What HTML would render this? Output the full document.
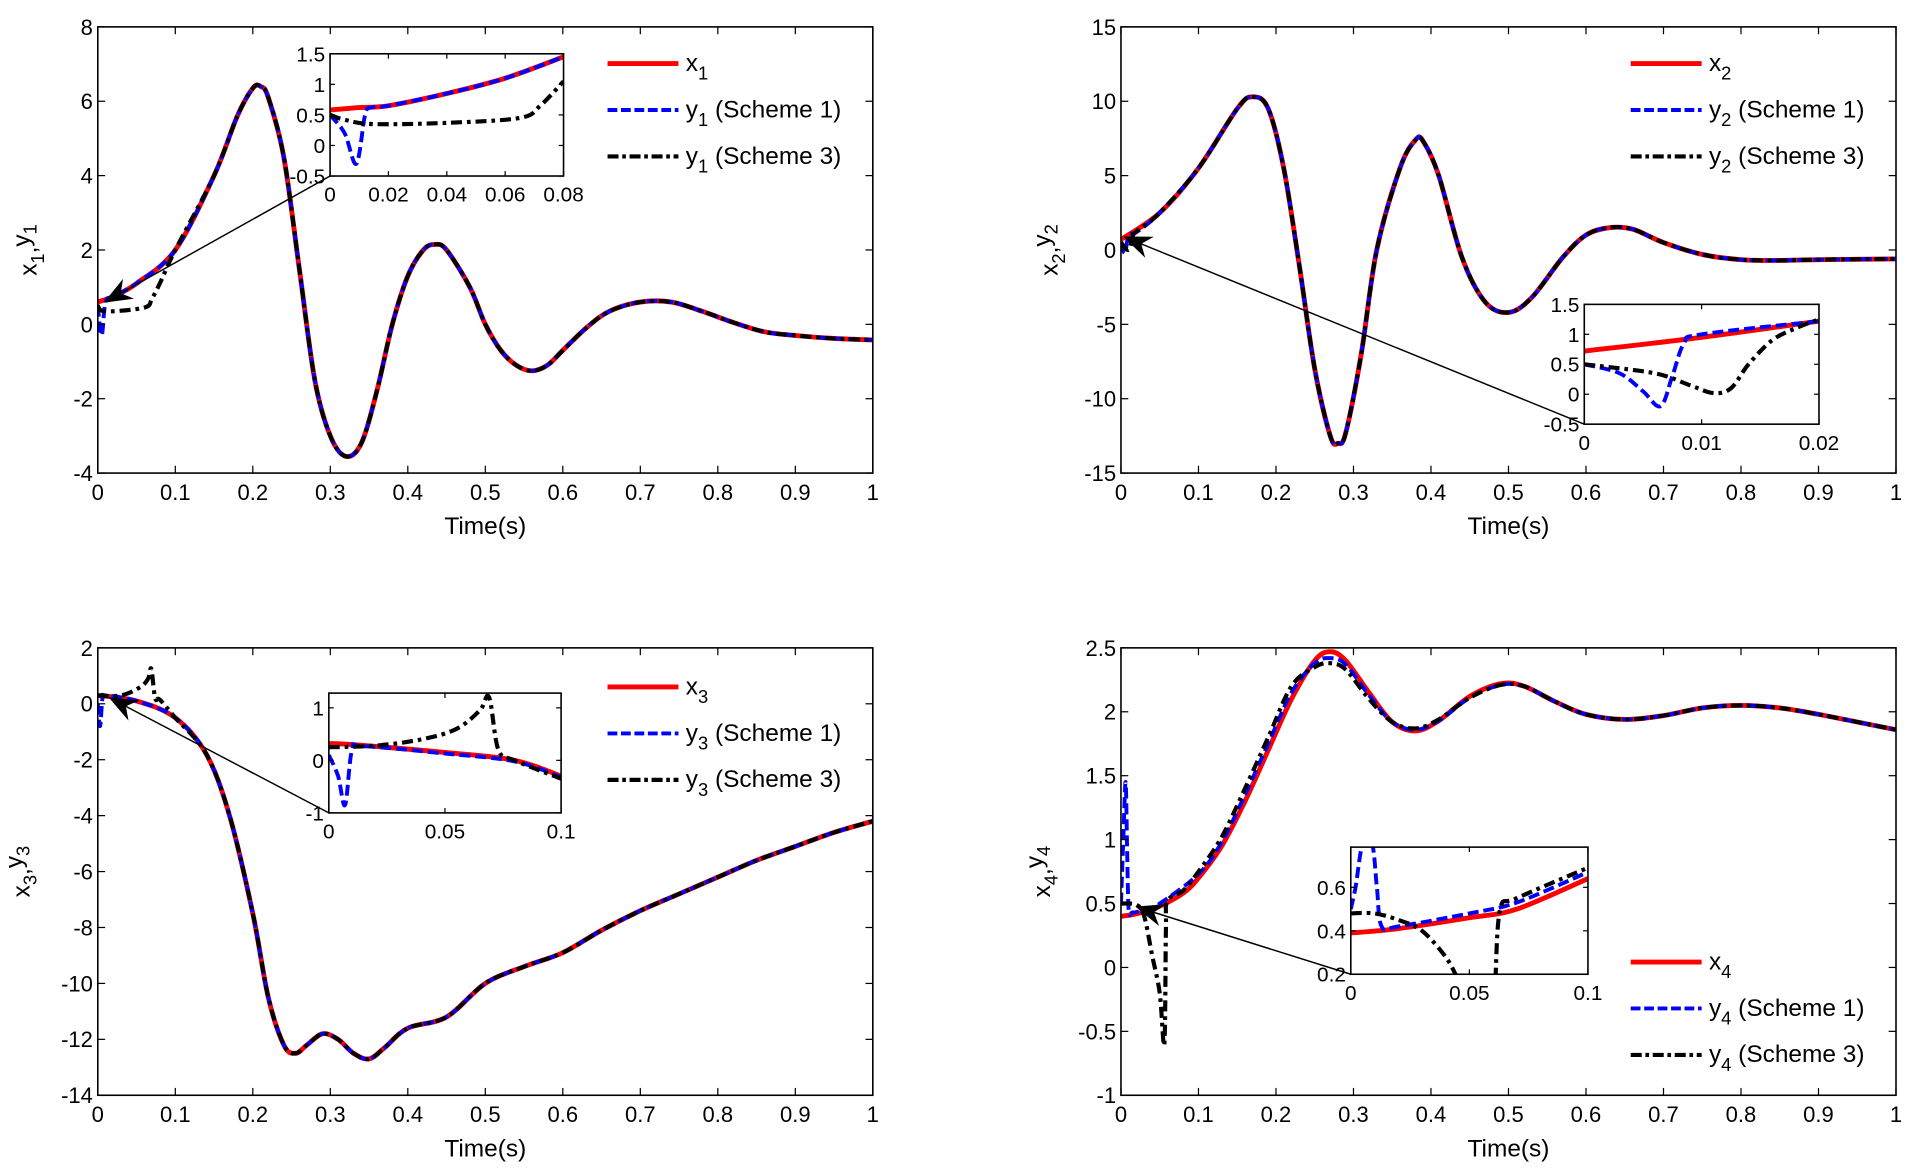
<!DOCTYPE html>
<html><head><meta charset="utf-8"><style>
html,body{margin:0;padding:0;background:#fff;}
svg{display:block;font-family:"Liberation Sans",Arial,sans-serif;}
</style></head><body>
<svg id="fig" width="1907" height="1168" viewBox="0 0 1560 955.5" preserveAspectRatio="none" xmlns="http://www.w3.org/2000/svg">
<rect width="1560" height="955.5" fill="#fff"/>
</svg>
<script>
// ---------- data ----------
// Plot 1
const p1T   = [0,0.02,0.05,0.1,0.15,0.18,0.2,0.21,0.22,0.24,0.26,0.28,0.30,0.32,0.34,0.36,0.38,0.40,0.42,0.435,0.45,0.48,0.50,0.52,0.54,0.56,0.58,0.60,0.63,0.66,0.70,0.74,0.78,0.82,0.86,0.90,0.95,1];
const x1V   = [0.6,0.75,1.1,2.0,4.0,5.6,6.35,6.4,6.1,4.5,1.5,-1.5,-3.0,-3.55,-3.2,-1.8,0,1.3,2.0,2.15,2.0,1.0,0,-0.7,-1.1,-1.25,-1.1,-0.7,-0.1,0.35,0.6,0.6,0.35,0.05,-0.2,-0.3,-0.38,-0.42];
const y1s1T = [0,0.005,0.01,0.02,0.05,0.1];
const y1s1V = [0.5,-0.3,0.6,0.75,1.1,2.0];
const y1s3T = [0,0.01,0.06,0.07,0.08,0.1];
const y1s3V = [0.5,0.35,0.45,0.7,1.1,2.0];
const in1T  = [0,0.01,0.02,0.04,0.06,0.08];
const in1x  = [0.58,0.62,0.65,0.85,1.1,1.45];
const in1s1T= [0,0.005,0.009,0.012,0.014,0.02,0.04,0.06,0.08];
const in1s1V= [0.5,0.2,-0.3,0.5,0.62,0.65,0.85,1.1,1.45];
const in1s3T= [0,0.005,0.015,0.04,0.065,0.072,0.08];
const in1s3V= [0.5,0.42,0.35,0.37,0.45,0.65,1.05];
// Plot 2
const p2T   = [0,0.05,0.1,0.15,0.17,0.19,0.21,0.23,0.25,0.27,0.28,0.29,0.31,0.33,0.36,0.38,0.39,0.41,0.44,0.47,0.50,0.53,0.57,0.60,0.63,0.66,0.70,0.75,0.80,0.85,0.90,1];
const x2V   = [0.7,2.5,5.5,9.5,10.3,9.5,5.5,-1,-8,-12.5,-13,-12.3,-7,0,5.5,7.4,7.3,5,-0.5,-3.5,-4.2,-3.2,-0.5,1.0,1.5,1.4,0.5,-0.3,-0.65,-0.7,-0.65,-0.6];
const in2T  = [0,0.01,0.02];
const in2x  = [0.72,0.95,1.22];
const in2s1T= [0,0.003,0.005,0.0065,0.0075,0.0085,0.01,0.02];
const in2s1V= [0.5,0.35,0.05,-0.2,0.3,0.85,1.0,1.22];
const in2s3T= [0,0.006,0.009,0.011,0.0125,0.014,0.016,0.018,0.02];
const in2s3V= [0.5,0.35,0.15,0.02,0.1,0.5,0.9,1.1,1.25];
// Plot 3
const p3T   = [0,0.05,0.1,0.14,0.17,0.2,0.22,0.24,0.255,0.27,0.29,0.31,0.33,0.35,0.37,0.4,0.45,0.5,0.55,0.6,0.65,0.7,0.75,0.8,0.85,0.9,0.95,1];
const x3V   = [0.3,0.1,-0.5,-1.8,-4,-7.5,-10.5,-12.2,-12.5,-12.2,-11.8,-12.0,-12.5,-12.7,-12.3,-11.6,-11.2,-10,-9.4,-8.9,-8.1,-7.4,-6.8,-6.2,-5.6,-5.1,-4.6,-4.2];
const y3s1T = [0,0.003,0.006,0.01,0.05,0.1];
const y3s1V = [0,-0.8,0.2,0.3,0.1,-0.5];
const y3s3T = [0,0.03,0.055,0.065,0.069,0.074,0.08,0.1];
const y3s3V = [0.3,0.3,0.6,0.9,1.25,0.2,0.15,-0.5];
const in3T  = [0,0.01,0.05,0.08,0.1];
const in3x  = [0.32,0.3,0.15,0,-0.3];
const in3s1T= [0,0.004,0.007,0.01,0.015,0.05,0.08,0.1];
const in3s1V= [0.1,-0.3,-0.85,0.2,0.27,0.13,-0.02,-0.32];
const in3s3T= [0,0.02,0.04,0.055,0.065,0.069,0.073,0.08,0.1];
const in3s3V= [0.25,0.28,0.4,0.6,0.95,1.2,0.2,0.0,-0.35];
// Plot 4
const p4T   = [0,0.02,0.05,0.08,0.1,0.13,0.16,0.19,0.22,0.25,0.27,0.29,0.32,0.35,0.38,0.41,0.45,0.49,0.52,0.56,0.6,0.65,0.7,0.75,0.8,0.85,0.9,0.95,1];
const x4V   = [0.4,0.42,0.48,0.58,0.7,0.95,1.3,1.7,2.1,2.4,2.47,2.4,2.15,1.92,1.85,1.93,2.12,2.22,2.2,2.08,1.98,1.94,1.97,2.03,2.05,2.03,1.98,1.92,1.86];
const y4s1T = [0,0.003,0.006,0.008,0.01,0.015,0.03,0.05,0.1,0.13,0.16,0.19,0.22,0.25,0.27,0.29,0.32,0.35,0.38,0.41,0.45,0.49,0.52,0.56,0.6,0.65,0.7,0.75,0.8,0.85,0.9,0.95,1];
const y4s1V = [0.5,1.0,1.45,0.9,0.45,0.43,0.45,0.5,0.73,0.98,1.35,1.75,2.15,2.38,2.42,2.37,2.13,1.92,1.86,1.93,2.11,2.21,2.2,2.08,1.98,1.94,1.97,2.03,2.05,2.03,1.98,1.92,1.86];
const y4s3T = [0,0.02,0.03,0.04,0.05,0.056,0.058,0.06,0.08,0.1,0.13,0.16,0.19,0.22,0.25,0.27,0.29,0.32,0.35,0.38,0.41,0.45,0.49,0.52,0.56,0.6,0.65,0.7,0.75,0.8,0.85,0.9,0.95,1];
const y4s3V = [0.5,0.49,0.4,0.1,-0.2,-0.6,0.3,0.52,0.6,0.75,1.02,1.4,1.8,2.2,2.35,2.38,2.33,2.1,1.92,1.87,1.94,2.11,2.21,2.2,2.08,1.98,1.94,1.97,2.03,2.05,2.03,1.98,1.92,1.86];
const in4T  = [0,0.02,0.05,0.07,0.1];
const in4x  = [0.39,0.41,0.46,0.5,0.64];
const in4s1T= [0,0.002,0.005,0.009,0.011,0.013,0.02,0.05,0.07,0.1];
const in4s1V= [0.5,0.6,0.8,0.8,0.6,0.42,0.42,0.48,0.53,0.67];
const in4s3T= [0,0.01,0.02,0.03,0.04,0.045,null,0.061,0.063,0.07,0.1];
const in4s3V= [0.48,0.48,0.45,0.4,0.28,0.18,null,0.18,0.5,0.55,0.69];
// ticks
const mainXTicks = [0,0.1,0.2,0.3,0.4,0.5,0.6,0.7,0.8,0.9,1];
const mainXLabels= ["0","0.1","0.2","0.3","0.4","0.5","0.6","0.7","0.8","0.9","1"];

// ---------- drawing ----------
const NS="http://www.w3.org/2000/svg";
const svg=document.getElementById('fig');
function mk(tag,attrs,parent){const e=document.createElementNS(NS,tag);for(const k in attrs)e.setAttribute(k,attrs[k]);(parent||svg).appendChild(e);return e;}
let clipId=0;
const STY={
  red:{stroke:'#ff0000','stroke-width':4,fill:'none','stroke-linejoin':'round'},
  blue:{stroke:'#0000ff','stroke-width':3.2,fill:'none','stroke-dasharray':'9,4'},
  black:{stroke:'#000','stroke-width':3.4,fill:'none','stroke-dasharray':'9,4,3,4'}
};
function makeAxes(box,xr,yr){
  const sx=v=>box.x0+(v-xr[0])/(xr[1]-xr[0])*(box.x1-box.x0);
  const sy=v=>box.y1-(v-yr[0])/(yr[1]-yr[0])*(box.y1-box.y0);
  return {sx,sy};
}
function smoothPath(pts){
  if(pts.length<2)return '';
  let d='M'+pts[0][0].toFixed(2)+','+pts[0][1].toFixed(2);
  for(let i=0;i<pts.length-1;i++){
    const p0=pts[Math.max(0,i-1)],p1=pts[i],p2=pts[i+1],p3=pts[Math.min(pts.length-1,i+2)];
    const k=1/6;
    const c1=[p1[0]+(p2[0]-p0[0])*k,p1[1]+(p2[1]-p0[1])*k];
    const c2=[p2[0]-(p3[0]-p1[0])*k,p2[1]-(p3[1]-p1[1])*k];
    d+='C'+c1[0].toFixed(2)+','+c1[1].toFixed(2)+' '+c2[0].toFixed(2)+','+c2[1].toFixed(2)+' '+p2[0].toFixed(2)+','+p2[1].toFixed(2);
  }
  return d;
}
function series(g,ax,T,V,style,name){
  let d='',seg=[];
  for(let i=0;i<=T.length;i++){
    if(i===T.length||T[i]===null||V[i]===null){d+=smoothPath(seg);seg=[];continue;}
    seg.push([ax.sx(T[i]),ax.sy(V[i])]);
  }
  const p=mk('path',Object.assign({d},style),g);
  
  
  return p;
}
function frame(g,box,ax,xt,xl,yt,yl,fs,name,tick){
  const f=mk('rect',{x:box.x0,y:box.y0,width:box.x1-box.x0,height:box.y1-box.y0,fill:'none',stroke:'#000','stroke-width':1.3},g);
  
  const tg=mk('g',{stroke:'#000','stroke-width':1},g);
  xt.forEach((v,i)=>{const x=ax.sx(v);
    mk('line',{x1:x,x2:x,y1:box.y1,y2:box.y1-tick},tg);mk('line',{x1:x,x2:x,y1:box.y0,y2:box.y0+tick},tg);
    const t=mk('text',{x:x,y:box.y1+fs+4,'font-size':fs,'text-anchor':'middle',fill:'#000'},g);t.textContent=xl[i];
    });
  yt.forEach((v,i)=>{const y=ax.sy(v);
    mk('line',{x1:box.x0,x2:box.x0+tick,y1:y,y2:y},tg);mk('line',{x1:box.x1,x2:box.x1-tick,y1:y,y2:y},tg);
    const t=mk('text',{x:box.x0-4,y:y+fs*0.36,'font-size':fs,'text-anchor':'end',fill:'#000'},g);t.textContent=yl[i];
    });
}
function clipG(parent,box){
  const id='c'+(clipId++);
  const cp=mk('clipPath',{id},parent);mk('rect',{x:box.x0,y:box.y0,width:box.x1-box.x0,height:box.y1-box.y0},cp);
  return mk('g',{'clip-path':'url(#'+id+')'},parent);
}
function subText(g,x,y,base,sub,rest,fs,anchor){
  const t=mk('text',{x,y,'font-size':fs,fill:'#000','text-anchor':anchor||'start'},g);
  const a=mk('tspan',{},t);a.textContent=base;
  const b=mk('tspan',{dy:fs*0.35,'font-size':fs*0.75},t);b.textContent=sub;
  if(rest){const c=mk('tspan',{dy:-fs*0.35},t);c.textContent=rest;}
  return t;
}
function plot(cfg){
  const g=mk('g',{});
  const ax=makeAxes(cfg.box,[0,1],cfg.yr);
  const cg=clipG(g,cfg.box);
  series(cg,ax,cfg.xT,cfg.xV,STY.red,cfg.k+'-x-line');
  series(cg,ax,cfg.s1T,cfg.s1V,STY.blue,cfg.k+'-scheme1-line');
  series(cg,ax,cfg.s3T,cfg.s3V,STY.black,cfg.k+'-scheme3-line');
  frame(g,cfg.box,ax,mainXTicks,mainXLabels,cfg.yt,cfg.yt.map(String),18,cfg.k,6);
  const xl=mk('text',{x:(cfg.box.x0+cfg.box.x1)/2,y:cfg.box.y1+50,'font-size':20,'text-anchor':'middle',fill:'#000'},g);
  xl.textContent='Time(s)';
  const yg=mk('g',{transform:`translate(${cfg.box.x0-cfg.ytOff},${(cfg.box.y0+cfg.box.y1)/2}) rotate(-90)`},g);
  
  const t=mk('text',{x:0,y:0,'font-size':20,'text-anchor':'middle',fill:'#000'},yg);
  [['x',''],[cfg.n,'s'],[',',''],['y',''],[cfg.n,'s']].forEach(([s,f],i)=>{
    const ts=mk('tspan',{},t);ts.textContent=s;
    if(f==='s'){ts.setAttribute('dy',6);ts.setAttribute('font-size',15);}
    else if(i>0){ts.setAttribute('dy',-6);}
  });
  const ib=cfg.inset.box;
  const iax=makeAxes(ib,cfg.inset.xr,cfg.inset.yr);
  const ag=mk('g',{},g);
  const [a0,a1]=cfg.arrow;
  mk('line',{x1:a0[0],y1:a0[1],x2:a1[0],y2:a1[1],stroke:'#000','stroke-width':1.2},ag);
  const ang=Math.atan2(a0[1]-a1[1],a0[0]-a1[0]);const L=22,W=0.38,Lb=14;
  const pA=[a1[0]+L*Math.cos(ang+W),a1[1]+L*Math.sin(ang+W)],pB=[a1[0]+L*Math.cos(ang-W),a1[1]+L*Math.sin(ang-W)],pC=[a1[0]+Lb*Math.cos(ang),a1[1]+Lb*Math.sin(ang)];
  mk('path',{d:`M${a1[0]},${a1[1]}L${pA[0]},${pA[1]}L${pC[0]},${pC[1]}L${pB[0]},${pB[1]}Z`,fill:'#000',stroke:'#000','stroke-width':1},ag);
  const ig=mk('g',{},g);
  mk('rect',{x:ib.x0,y:ib.y0,width:ib.x1-ib.x0,height:ib.y1-ib.y0,fill:'#fff'},ig);
  const icg=clipG(ig,ib);
  series(icg,iax,cfg.inset.xT,cfg.inset.xV,STY.red,cfg.k+'-inset-x-line');
  series(icg,iax,cfg.inset.s1T,cfg.inset.s1V,STY.blue,cfg.k+'-inset-scheme1-line');
  series(icg,iax,cfg.inset.s3T,cfg.inset.s3V,STY.black,cfg.k+'-inset-scheme3-line');
  frame(ig,ib,iax,cfg.inset.xt,cfg.inset.xt.map(String),cfg.inset.yt,cfg.inset.yt.map(String),17,cfg.k+'-inset',4);
  const lg=mk('g',{},g);
  const [lx,ly]=cfg.legend;
  [['x','',STY.red,'x'],['y',' (Scheme 1)',STY.blue,'s1'],['y',' (Scheme 3)',STY.black,'s3']].forEach(([b,r,st,kk],i)=>{
    const y=ly+i*38;
    const e=mk('g',{},lg);
    mk('line',Object.assign({x1:lx,x2:lx+58,y1:y,y2:y},st,{'stroke-dasharray':st['stroke-dasharray']?(kk==='s1'?'8,3':'9,3,3,3'):'none'}),e);
    subText(e,lx+64,y+6,b,cfg.n,r,20);
  });
}
plot({name:'subplot-x1',k:'p1',n:'1',box:{x0:80,x1:714,y0:22,y1:387},yr:[-4,8],yt:[-4,-2,0,2,4,6,8],ytOff:50,
  xT:p1T,xV:x1V,s1T:y1s1T.concat(p1T.slice(4)),s1V:y1s1V.concat(x1V.slice(4)),s3T:y1s3T.concat(p1T.slice(4)),s3V:y1s3V.concat(x1V.slice(4)),
  inset:{box:{x0:270,x1:461,y0:44,y1:144},xr:[0,0.08],yr:[-0.5,1.5],xt:[0,0.02,0.04,0.06,0.08],yt:[-0.5,0,0.5,1,1.5],
    xT:in1T,xV:in1x,s1T:in1s1T,s1V:in1s1V,s3T:in1s3T,s3V:in1s3V},
  arrow:[[270,144],[86,247]],legend:[497,52]});
plot({name:'subplot-x2',k:'p2',n:'2',box:{x0:917,x1:1551,y0:22,y1:387},yr:[-15,15],yt:[-15,-10,-5,0,5,10,15],ytOff:52,
  xT:p2T,xV:x2V,s1T:[0,0.005,0.01,0.02].concat(p2T.slice(1)),s1V:[0.5,-0.2,1.0,1.2].concat(x2V.slice(1)),s3T:[0,0.01,0.015,0.02].concat(p2T.slice(1)),s3V:[0.5,0.0,0.9,1.25].concat(x2V.slice(1)),
  inset:{box:{x0:1296,x1:1488,y0:249,y1:347},xr:[0,0.02],yr:[-0.5,1.5],xt:[0,0.01,0.02],yt:[-0.5,0,0.5,1,1.5],
    xT:in2T,xV:in2x,s1T:in2s1T,s1V:in2s1V,s3T:in2s3T,s3V:in2s3V},
  arrow:[[1296,347],[920,194]],legend:[1334,52]});
plot({name:'subplot-x3',k:'p3',n:'3',box:{x0:80,x1:714,y0:530,y1:896},yr:[-14,2],yt:[-14,-12,-10,-8,-6,-4,-2,0,2],ytOff:56,
  xT:p3T,xV:x3V,s1T:y3s1T.concat(p3T.slice(3)),s1V:y3s1V.concat(x3V.slice(3)),s3T:y3s3T.concat(p3T.slice(3)),s3V:y3s3V.concat(x3V.slice(3)),
  inset:{box:{x0:269,x1:459,y0:567,y1:665},xr:[0,0.1],yr:[-1,1.28],xt:[0,0.05,0.1],yt:[-1,0,1],
    xT:in3T,xV:in3x,s1T:in3s1T,s1V:in3s1V,s3T:in3s3T,s3V:in3s3V},
  arrow:[[269,665],[90,571]],legend:[497,562]});
plot({name:'subplot-x4',k:'p4',n:'4',box:{x0:917,x1:1551,y0:530,y1:896},yr:[-1,2.5],yt:[-1,-0.5,0,0.5,1,1.5,2,2.5],ytOff:58,
  xT:p4T,xV:x4V,s1T:y4s1T,s1V:y4s1V,s3T:y4s3T,s3V:y4s3V,
  inset:{box:{x0:1105,x1:1299,y0:693,y1:797},xr:[0,0.1],yr:[0.2,0.785],xt:[0,0.05,0.1],yt:[0.2,0.4,0.6],
    xT:in4T,xV:in4x,s1T:in4s1T,s1V:in4s1V,s3T:in4s3T,s3V:in4s3V},
  arrow:[[1105,797],[930,742]],legend:[1334,787]});
</script>
</body></html>
